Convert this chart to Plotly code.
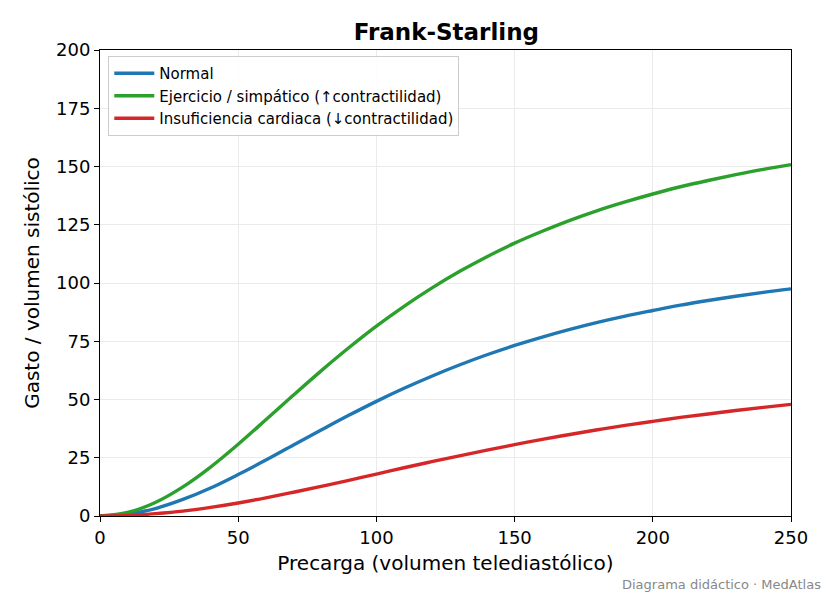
import plotly.graph_objects as go

# precarga (volumen telediastólico)
precarga = [0, 10, 20, 30, 40, 50, 60, 70, 80, 90, 100, 110, 120, 130, 140,
            150, 160, 170, 180, 190, 200, 210, 220, 230, 240, 250]

normal = [0, 0.8, 3.2, 7.1, 12.0, 17.8, 24.0, 30.5, 36.9, 43.2, 49.2, 54.8, 60.0,
          64.8, 69.2, 73.2, 76.8, 80.1, 83.1, 85.8, 88.2, 90.5, 92.5, 94.3, 96.0, 97.5]
ejercicio = [0, 1.5, 5.8, 12.5, 21.0, 30.8, 41.3, 51.9, 62.3, 72.2, 81.5, 90.0, 97.8,
             104.9, 111.3, 117.1, 122.2, 126.9, 131.1, 134.8, 138.2, 141.3, 144.0,
             146.5, 148.8, 150.8]
insuficiencia = [0, 0.2, 1.0, 2.1, 3.7, 5.6, 7.8, 10.2, 12.7, 15.3, 18.0, 20.7, 23.3,
                 25.8, 28.3, 30.6, 32.9, 35.0, 37.0, 38.9, 40.6, 42.3, 43.8, 45.3,
                 46.6, 47.9]

series = [
    ("Normal", normal, "#1f77b4"),
    ("Ejercicio / simpático (↑contractilidad)", ejercicio, "#2ca02c"),
    ("Insuficiencia cardiaca (↓contractilidad)", insuficiencia, "#d62728"),
]

fig = go.Figure()
for nombre, valores, color in series:
    fig.add_trace(go.Scatter(x=precarga, y=valores, mode="lines", name=nombre,
                             line=dict(color=color, width=3.4, shape="spline")))

ejes = dict(showline=True, linecolor="black", linewidth=1, mirror=True,
            ticks="outside", ticklen=5, tickcolor="black",
            showgrid=True, gridcolor="#ebebeb", gridwidth=1, zeroline=False,
            tickfont=dict(size=18, color="black"))

# la pagina tiene 8px de margen en body, por eso 824x590
fig.update_layout(
    width=824, height=590,
    margin=dict(l=92, r=41, t=42, b=82),
    paper_bgcolor="white", plot_bgcolor="white",
    font=dict(family="DejaVu Sans", color="black"),
    title=dict(text="<b>Frank-Starling</b>", x=0.532, xanchor="center",
               y=0.959, yanchor="middle", font=dict(size=23)),
    legend=dict(x=0.012, y=0.987, xanchor="left", yanchor="top",
                bgcolor="rgba(255,255,255,0.9)", bordercolor="#cccccc", borderwidth=1,
                font=dict(size=15), tracegroupgap=0, itemwidth=40),
    showlegend=True,
)
fig.update_xaxes(range=[0, 250], tickvals=[0, 50, 100, 150, 200, 250],
                 title=dict(text="Precarga (volumen telediastólico)", font=dict(size=20),
                            standoff=9), **ejes)
fig.update_yaxes(range=[0, 200], tickvals=[0, 25, 50, 75, 100, 125, 150, 175, 200],
                 title=dict(text="Gasto / volumen sistólico", font=dict(size=20),
                            standoff=11), **ejes)

fig.add_annotation(text="Diagrama didáctico · MedAtlas", xref="paper", yref="paper",
                   x=1.046, y=-0.146, xanchor="right", yanchor="middle",
                   showarrow=False, font=dict(size=13, color="#888888"))

fig.write_html("out.html")
